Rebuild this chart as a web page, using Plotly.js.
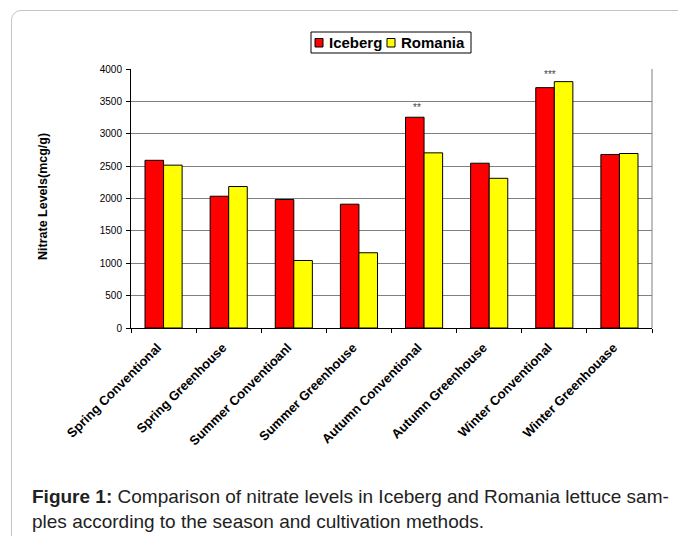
<!DOCTYPE html>
<html>
<head>
<meta charset="utf-8">
<script src="https://cdn.plot.ly/plotly-3.0.1.min.js"></script>
<style>
html,body{margin:0;padding:0;background:#fff;}
#wrap{position:relative;width:678px;height:536px;overflow:hidden;}
#frame{position:absolute;left:11px;top:10px;width:700px;height:560px;border:1.5px solid #c4c4c4;border-radius:10px;box-sizing:border-box;}
#chart{position:absolute;left:0;top:0;width:678px;height:536px;}
</style>
</head>
<body>
<div id="wrap">
<div id="frame"></div>
<div id="chart"></div>
</div>
<script>
const categories = ["Spring Conventional","Spring Greenhouse","Summer Conventioanl","Summer Greenhouse","Autumn Conventional","Autumn Greenhouse","Winter Conventional","Winter Greenhouase"];
const iceberg = [2590, 2035, 1985, 1912, 3255, 2545, 3712, 2680];
const romania = [2515, 2185, 1043, 1162, 2705, 2312, 3805, 2695];
const yTicks = [0,500,1000,1500,2000,2500,3000,3500,4000];
const seriesNames = ["Iceberg", "Romania"];
const seriesColors = ["#ff0000", "#ffff00"];
const sigCats = ["Autumn Conventional", "Winter Conventional"];
const sigValues = [3255, 3712];
const sigTexts = ["**", "***"];

// layout geometry
const W = 678, H = 536, M = {l:131, r:26, t:69, b:208};
const PW = W - M.l - M.r, PH = H - M.t - M.b;
const px = x => (x - M.l) / PW;
const py = y => (H - M.b - y) / PH;
const FONT = 'Liberation Sans, Arial, sans-serif';

const lineStyle = {color:'#000', width:1};
const traces = [
  {type:'bar', name:seriesNames[0], x:categories, y:iceberg, marker:{color:seriesColors[0], line:lineStyle}},
  {type:'bar', name:seriesNames[1], x:categories, y:romania, marker:{color:seriesColors[1], line:lineStyle}}
];

const sigShift = [{x:-7, y:10}, {x:-4, y:13}];
const annotations = sigTexts.map((t, i) => ({
  x: sigCats[i], y: sigValues[i], xref:'x', yref:'y', text:t, showarrow:false,
  xshift:sigShift[i].x, yshift:sigShift[i].y, font:{family:FONT, size:10, color:'#444'}
}));
annotations.push({
  xref:'paper', yref:'paper', x:px(43), y:py(197), xanchor:'center', yanchor:'middle',
  text:'<b>Nitrate Levels(mcg/g)</b>', textangle:-90,
  showarrow:false, font:{family:FONT, size:12.5, color:'#000'}
});
annotations.push({
  xref:'paper', yref:'paper', x:px(30), y:py(484), xanchor:'left', yanchor:'top', align:'left',
  text:'<b>Figure 1:</b> Comparison of nitrate levels in Iceberg and Romania lettuce sam-<br>ples according to the season and cultivation methods.',
  showarrow:false, font:{family:FONT, size:19, color:'#222'}
});

// custom legend (box, swatches, labels)
const shapes = [
  {type:'line', xref:'paper', yref:'paper', x0:1, x1:1, y0:0, y1:1, line:{color:'#808080', width:1}},
  {type:'rect', xref:'paper', yref:'paper', x0:px(311), x1:px(471), y0:py(32), y1:py(53), line:{color:'#000', width:1}, fillcolor:'#fff'}
];
const swatchX = [315, 387], labelX = [327, 399];
seriesNames.forEach((n, i) => {
  shapes.push({type:'rect', xref:'paper', yref:'paper', x0:px(swatchX[i]), x1:px(swatchX[i]+8), y0:py(38.5), y1:py(47), line:{color:'#000', width:1}, fillcolor:seriesColors[i]});
  annotations.push({xref:'paper', yref:'paper', x:px(labelX[i]), y:py(43), xanchor:'left', yanchor:'middle', text:'<b>'+n+'</b>', showarrow:false, font:{family:FONT, size:15, color:'#000'}});
});

const layout = {
  width:W, height:H,
  margin:M,
  paper_bgcolor:'rgba(0,0,0,0)', plot_bgcolor:'#fff',
  barmode:'group', bargap:0.43, bargroupgap:0,
  font:{family:FONT, color:'#000'},
  showlegend:false,
  xaxis:{type:'category', tickangle:-45, tickson:'boundaries', ticks:'outside', ticklen:4, tickcolor:'#000',
    showline:true, linecolor:'#000', linewidth:1, ticklabelstandoff:6, ticklabelshift:-6,
    tickfont:{family:FONT, size:13, color:'#000', weight:'bold'}},
  yaxis:{range:[0,4000], tickvals:yTicks, ticks:'outside', ticklen:4, tickcolor:'#000',
    showline:true, linecolor:'#000', linewidth:1, showgrid:true, gridcolor:'#808080', gridwidth:1,
    zeroline:false, ticklabelstandoff:2, tickfont:{family:FONT, size:10, color:'#000'}},
  shapes:shapes,
  annotations:annotations
};

Plotly.newPlot('chart', traces, layout, {displayModeBar:false, staticPlot:true});
</script>
</body>
</html>
